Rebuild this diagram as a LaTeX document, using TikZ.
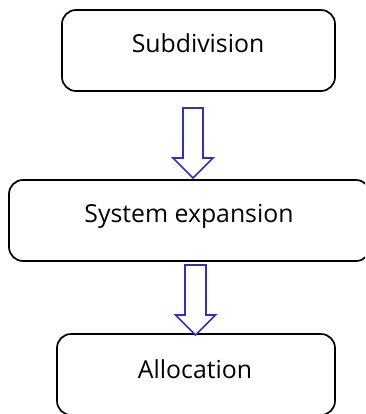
\documentclass[tikz,border=0pt]{standalone}
\usepackage{fontspec}
\setmainfont{Open Sans}
\usetikzlibrary{calc}
\definecolor{arrowblue}{RGB}{48,48,192}
\tikzset{
  box/.style={draw=black, line width=1.7pt, rounded corners=14pt, minimum height=81pt, inner sep=0pt},
  lbl/.style={anchor=base, font=\fontsize{24.8}{28}\selectfont, inner sep=0pt},
  bigarrow/.style={draw=arrowblue, line width=1.6pt, fill=white, line join=miter}
}
\begin{document}
\begin{tikzpicture}[x=1pt,y=-1pt]
\useasboundingbox (0,0) rectangle (365,414);
\clip (0,0) rectangle (365,414);
\node[box, minimum width=273pt] (b1) at (198.5,50.5) {};
\node[box, minimum width=361pt] (b2) at (189.5,220.5) {};
\node[box, minimum width=278pt] (b3) at (196,374.5) {};
\node[lbl] (l1) at (198,53) {Subdivision};
\node[lbl] (l2) at (189,222.5) {System expansion};
\node[lbl] (l3) at (195,378) {Allocation};
\coordinate (a1) at (193,108);
\coordinate (t1) at (193,178);
\coordinate (a2) at (195.5,265);
\coordinate (t2) at (195.5,335);
\draw[bigarrow] ($(a1)+(-10,0)$) -- ($(t1)+(-10,-20)$) -- ($(t1)+(-20,-20)$) -- (t1)
  -- ($(t1)+(20,-20)$) -- ($(t1)+(10,-20)$) -- ($(a1)+(10,0)$) -- cycle;
\draw[bigarrow] ($(a2)+(-10.5,0)$) -- ($(t2)+(-10.5,-20)$) -- ($(t2)+(-20,-20)$) -- (t2)
  -- ($(t2)+(20,-20)$) -- ($(t2)+(10.5,-20)$) -- ($(a2)+(10.5,0)$) -- cycle;
\end{tikzpicture}
\end{document}
